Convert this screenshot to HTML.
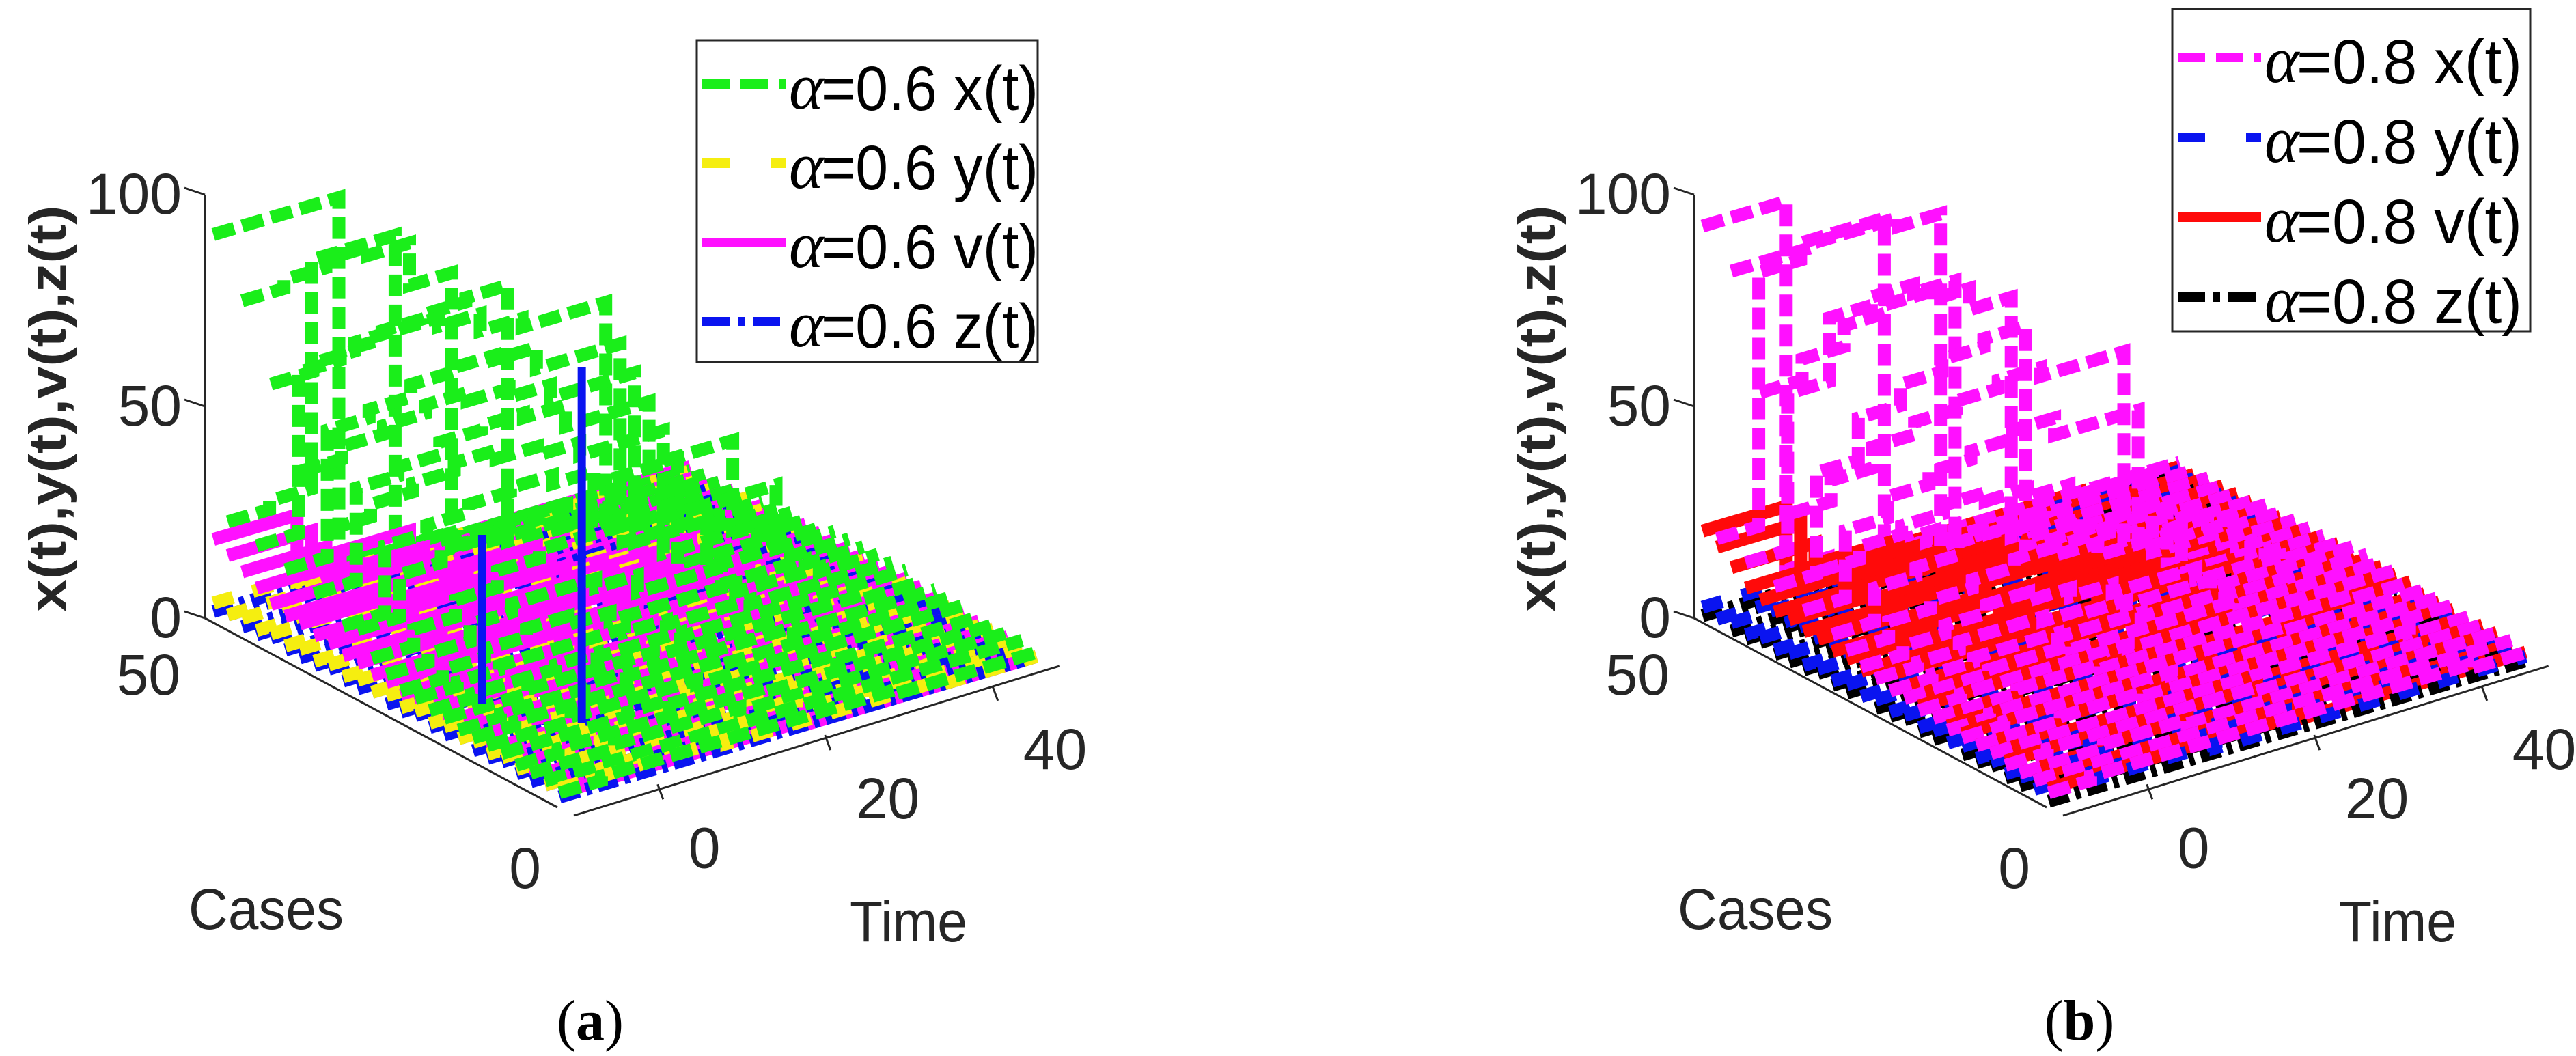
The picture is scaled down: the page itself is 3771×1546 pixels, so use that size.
<!DOCTYPE html>
<html><head><meta charset="utf-8"><style>
html,body{margin:0;padding:0;background:#fff;}
svg{display:block;}
.tk{font-family:"Liberation Sans",sans-serif;font-size:84px;fill:#262626;}
.lg{font-family:"Liberation Sans",sans-serif;font-size:92px;fill:#000;}
.al{font-family:"Liberation Serif",serif;font-style:italic;font-size:96px;fill:#000;}
.yt{font-family:"Liberation Sans",sans-serif;font-weight:bold;font-size:76px;fill:#262626;}
.cap{font-family:"Liberation Serif",serif;font-size:84px;fill:#000;}
</style></head><body>
<svg id="fig" width="3771" height="1546" viewBox="0 0 3771 1546" xmlns="http://www.w3.org/2000/svg">
<g id="panelA"></g>
<g id="panelB"></g>
</svg>
<script>
// ---------- data ----------
const cases = [50,48,46,44,42,40,38,36,34,32,30,28,26,24,22,20,18,16,14,12,10,8,6,4,2];
const xTimes = [-10,-5,0,5,10,15,20,30,40];
const fTimes = [-10,0,10,20,35];
const tEnd = 47;
const zTicks = [0,50,100];
const caseTicks = [0,50];
const timeTicks = [0,20,40];

const aX = [
[90,90,90,5,3,3,2,2,1],[24,26,80,80,6,4,3,2,2],[78,80,82,80,70,5,4,2,2],[22,60,62,64,65,66,5,3,2],
[62,64,66,66,64,60,58,4,3],[20,50,52,55,56,55,50,6,3],[45,48,50,52,50,48,45,5,3],[18,40,42,45,46,45,40,25,4],
[35,38,40,42,40,38,35,6,4],[14,30,32,34,35,33,30,5,4],[15,25,28,30,30,28,26,20,5],[10,14,18,22,24,24,20,8,5],
[8,10,14,16,16,14,10,6,5],[6,8,10,12,10,8,8,6,5],[6,7,8,8,8,7,6,5,5],[5,6,6,7,6,6,5,5,5],
[5,5,6,6,6,5,5,5,4],[4,5,5,6,5,5,5,4,4],[4,5,5,5,5,5,4,4,4],[4,4,5,5,5,4,4,4,4],
[4,4,4,5,4,4,4,3,3],[3,4,4,4,4,4,3,3,3],[3,3,4,4,4,3,3,3,3],[3,3,3,3,3,3,3,3,3],[2,3,3,3,3,3,3,2,2]];
const aY = [
[3,2,2,1,1],[2,3,2,2,1],[3,3,2,1,1],[2,2,2,2,1],[3,2,3,2,2],[2,3,2,1,1],[3,3,2,2,1],[2,2,3,2,2],
[3,2,2,1,1],[2,3,2,2,2],[3,3,2,2,1],[2,2,2,1,1],[3,2,3,2,2],[2,3,2,2,1],[3,2,2,2,1],[2,3,3,2,2],
[3,2,2,1,1],[2,2,2,2,1],[3,3,2,2,2],[2,2,3,1,1],[3,2,2,2,1],[2,3,2,2,2],[3,2,2,1,1],[2,2,3,2,1],[3,3,2,2,1]];
const aV = [
[18,3,2,2,2],[16,4,3,2,2],[14,12,3,2,2],[12,10,3,2,2],[10,10,4,3,2],[9,9,8,3,2],[9,8,7,3,2],[8,8,7,4,2],
[8,7,6,4,3],[7,7,6,5,3],[7,6,6,5,3],[6,6,5,5,3],[6,6,5,4,3],[5,5,5,4,3],[5,5,4,4,3],[5,5,4,4,3],
[4,5,4,3,3],[4,4,4,3,2],[4,4,3,3,2],[3,4,3,3,2],[3,3,3,2,2],[3,3,3,2,2],[2,3,2,2,2],[2,2,2,2,1],[2,2,2,1,1]];
const aZ = [
[1,1,1,1,1],[2,1,1,1,0],[1,2,1,1,1],[1,1,2,1,1],[2,1,1,1,1],[1,1,1,2,1],[1,2,1,1,1],[1,1,1,1,1],
[2,1,2,1,1],[1,1,1,1,2],[1,2,1,1,1],[2,1,1,2,1],[1,1,1,1,1],[1,2,2,1,1],[2,1,1,1,1],[1,1,1,2,1],
[1,2,1,1,1],[2,1,1,1,1],[1,1,2,1,1],[1,2,1,1,2],[2,1,1,1,1],[1,1,1,1,1],[1,2,1,2,1],[2,1,1,1,1],[1,1,1,1,1]];
const aSpikeCase = [14,22];
const aSpikeTime = [3,-2];
const aSpikeValue = [84,40];

const bX = [
[92,92,5,4,4,4,3,3,3],[20,80,84,84,5,4,4,3,3],[85,85,86,86,84,5,4,3,3],[18,55,70,72,70,6,4,3,3],
[60,65,70,72,70,65,5,4,3],[16,40,50,55,58,60,6,4,3],[35,40,45,48,50,52,50,5,4],[14,30,35,38,40,42,38,5,4],
[25,28,30,32,30,28,25,5,4],[12,20,22,25,24,22,20,5,4],[10,14,16,18,20,18,15,5,4],[8,10,12,14,12,10,8,5,4],
[7,8,10,10,9,8,7,5,5],[6,7,8,8,7,7,6,5,5],[6,6,7,7,6,6,6,5,5],[5,6,6,6,6,5,5,5,5],
[5,5,6,6,5,5,5,5,4],[4,5,5,5,5,5,5,4,4],[4,5,5,5,5,4,4,4,4],[4,4,5,5,4,4,4,4,4],
[4,4,4,4,4,4,4,4,3],[3,4,4,4,4,4,3,3,3],[3,3,4,4,3,3,3,3,3],[3,3,3,3,3,3,3,3,3],[2,3,3,3,3,3,3,3,2]];
const bY = [
[2,1,1,1,1],[1,2,1,1,1],[2,2,1,1,1],[1,1,2,1,1],[2,1,2,1,1],[1,2,1,1,1],[2,2,1,2,1],[1,1,2,1,1],
[2,1,1,1,1],[1,2,1,2,1],[2,2,1,1,1],[1,1,1,1,1],[2,1,2,1,2],[1,2,1,1,1],[2,1,1,2,1],[1,2,2,1,1],
[2,1,1,1,1],[1,1,1,2,1],[2,2,1,1,1],[1,1,2,1,1],[2,1,1,1,1],[1,2,1,1,1],[2,1,1,1,1],[1,1,2,1,1],[2,2,1,1,1]];
const bV = [
[20,4,3,3,2],[18,5,4,3,2],[15,10,4,3,3],[12,10,4,3,3],[11,10,8,4,3],[10,10,8,4,3],[10,9,8,5,3],[9,9,8,5,3],
[9,8,7,5,4],[8,8,7,6,4],[8,7,7,6,4],[7,7,6,6,4],[7,7,6,5,4],[6,6,6,5,4],[6,6,5,5,4],[6,6,5,5,4],
[5,6,5,4,4],[5,5,5,4,3],[5,5,4,4,3],[4,5,4,4,3],[4,4,4,3,3],[4,4,4,3,3],[3,4,3,3,3],[3,3,3,3,2],[3,3,3,2,2]];
const bZ = [
[0,0,1,1,1],[1,0,0,1,0],[0,1,0,0,1],[0,0,1,0,0],[1,0,0,0,1],[0,0,0,1,0],[0,1,0,0,0],[0,0,0,0,1],
[1,0,1,0,0],[0,0,0,0,1],[0,1,0,0,0],[1,0,0,1,0],[0,0,0,0,0],[0,1,1,0,0],[1,0,0,0,0],[0,0,0,1,0],
[0,1,0,0,0],[1,0,0,0,0],[0,0,1,0,0],[0,1,0,0,1],[1,0,0,0,0],[0,0,0,0,0],[0,1,0,1,0],[1,0,0,0,0],[0,0,0,0,0]];
const bSpikeCase = [];
const bSpikeTime = [];
const bSpikeValue = [];

// ---------- axes / projection ----------
const NS = "http://www.w3.org/2000/svg";
const tMin = -11, tMax = 48;
const F0 = [828, 1188];
const TV = [12.25, -3.61];
const CV = [-10.56, -5.66];
const ZV = 6.2;
function proj(dx, c, t, z){
  return [F0[0] + dx + (t - tMin)*TV[0] + c*CV[0], F0[1] + (t - tMin)*TV[1] + c*CV[1] - z*ZV];
}
function mk(parent, tag, attrs){
  const e = document.createElementNS(NS, tag);
  for (const k in attrs) e.setAttribute(k, attrs[k]);
  parent.appendChild(e);
  return e;
}
function stairPath(dx, c, times, vals){
  let p = proj(dx, c, times[0], vals[0]);
  let d = "M" + p[0].toFixed(1) + "," + p[1].toFixed(1);
  for (let i = 0; i < vals.length; i++){
    const tn = i + 1 < times.length ? times[i+1] : tEnd;
    p = proj(dx, c, tn, vals[i]);
    d += "L" + p[0].toFixed(1) + "," + p[1].toFixed(1);
    if (i + 1 < vals.length){
      p = proj(dx, c, tn, vals[i+1]);
      d += "L" + p[0].toFixed(1) + "," + p[1].toFixed(1);
    }
  }
  return d;
}

function drawPanel(g, dx, X, Y, V, Z, sC, sT, sV, cols, alphaStr, leg, capLabel){
  const ax = mk(g, "g", {stroke:"#262626","stroke-width":3,fill:"none"});
  
  
  const zb = proj(dx, 50, tMin, 0), zt = proj(dx, 50, tMin, 100);
  const zl = mk(ax, "line", {x1:zb[0],y1:zb[1],x2:zt[0],y2:zt[1]});
  
  
  const cf = proj(dx, 0, tMin, 0);
  const cl = mk(ax, "line", {x1:zb[0],y1:zb[1],x2:cf[0]-12,y2:cf[1]-6});
  
  
  const te = proj(dx, 0, tMax, 0);
  const tl = mk(ax, "line", {x1:cf[0]+12,y1:cf[1]+6,x2:te[0],y2:te[1]});
  
  

  zTicks.forEach(v => {
    const p = proj(dx, 50, tMin, v);
    mk(ax, "line", {x1:p[0]-30,y1:p[1]-10,x2:p[0],y2:p[1]});
    const t = mk(g, "text", {x:p[0]-34, y:p[1]+28, "text-anchor":"end", class:"tk"});
    t.textContent = v;
    
    
  });
  caseTicks.forEach(v => {
    const p = proj(dx, v, tMin, 0);
    const t = mk(g, "text", {x:p[0]-36, y:p[1]+112, "text-anchor":"end", class:"tk"});
    t.textContent = v;
    
    
  });
  timeTicks.forEach(v => {
    const p = proj(dx, 0, v, 0);
    mk(ax, "line", {x1:p[0],y1:p[1],x2:p[0]+8,y2:p[1]+22});
    const t = mk(g, "text", {x:p[0]+45, y:p[1]+122, "text-anchor":"start", class:"tk"});
    t.textContent = v;
    
    
  });

  const sg = mk(g, "g", {fill:"none","stroke-width":19,"stroke-linejoin":"miter","stroke-linecap":"butt"});
  
  
  cases.forEach((c, i) => {
    const specs = [
      [V[i], fTimes, cols[2], "none", "v"],
      [Z[i], fTimes, cols[3], "30 10 8 10", "z"],
      [Y[i], fTimes, cols[1], "30 30", "y"],
      [X[i], xTimes, cols[0], "32 12", "x"]
    ];
    specs.forEach(s => {
      const pth = mk(sg, "path", {d:stairPath(dx, c, s[1], s[0]), stroke:s[2], "stroke-dasharray":s[3]});
      
      
    });
  });
  sC.forEach((c, i) => {
    const a = proj(dx, c, sT[i], 0), b = proj(dx, c, sT[i], sV[i]);
    const l = mk(sg, "line", {x1:a[0],y1:a[1],x2:b[0],y2:b[1],stroke:cols[3],"stroke-width":12});
    
    
  });

  const yt = mk(g, "text", {x:0, y:0, class:"yt", "text-anchor":"middle", transform:"translate(" + (dx+96) + ",598) rotate(-90)", textLength:595, lengthAdjust:"spacingAndGlyphs"});
  yt.textContent = "x(t),y(t),v(t),z(t)";
  
  
  const ct = mk(g, "text", {x:dx+276, y:1360, class:"tk", textLength:227, lengthAdjust:"spacingAndGlyphs"});
  ct.textContent = "Cases";
  
  
  const tt = mk(g, "text", {x:dx+1244, y:1378, class:"tk", textLength:172, lengthAdjust:"spacingAndGlyphs"});
  tt.textContent = "Time";
  
  

  const lg = mk(g, "g", {});
  
  
  mk(lg, "rect", {x:leg.x, y:leg.y, width:leg.w, height:leg.h, fill:"#fff", stroke:"#262626", "stroke-width":3});
  const names = ["x(t)","y(t)","v(t)","z(t)"];
  const dashes = ["40 16","40 60","none","40 12 10 12"];
  names.forEach((n, i) => {
    const cy = leg.y0 + i*leg.dy;
    const ln = mk(lg, "line", {x1:leg.x+8, y1:cy, x2:leg.x+130, y2:cy, stroke:cols[i], "stroke-width":14, "stroke-dasharray":dashes[i]});
    
    
    const a = mk(lg, "text", {x:leg.x+135, y:cy+36, class:"al"});
    a.textContent = "\u03B1";
    
    
    const tx = mk(lg, "text", {x:leg.x+182, y:cy+38, class:"lg", textLength:leg.tl, lengthAdjust:"spacingAndGlyphs"});
    tx.textContent = "=" + alphaStr + " " + n;
    
    
  });

  const cap = mk(g, "text", {x:dx+864, y:1522, class:"cap", "text-anchor":"middle"});
  cap.innerHTML = '(<tspan font-weight="bold">' + capLabel + '</tspan>)';
  
  
}

drawPanel(document.getElementById("panelA"), 0, aX, aY, aV, aZ, aSpikeCase, aSpikeTime, aSpikeValue,
  ["#1aee1a","#f5ee10","#ff10ff","#0a14f0"], "0.6",
  {x:1020, y:59, w:499, h:471, y0:123, dy:116, tl:318}, "a");
drawPanel(document.getElementById("panelB"), 2180, bX, bY, bV, bZ, bSpikeCase, bSpikeTime, bSpikeValue,
  ["#ff10ff","#0a14f0","#ff0a0a","#000000"], "0.8",
  {x:3180, y:13, w:524, h:472, y0:84, dy:117, tl:330}, "b");
</script>
</body></html>
